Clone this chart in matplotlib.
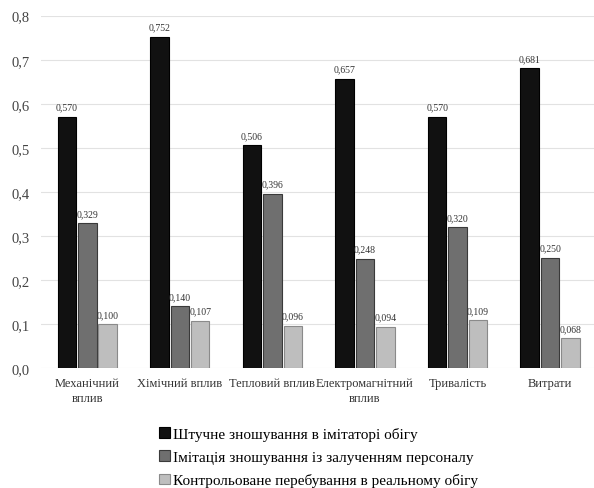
import numpy as np
import matplotlib.pyplot as plt
from matplotlib.ticker import FuncFormatter

plt.rcParams['font.family'] = ['Liberation Serif', 'DejaVu Serif']

categories = ['Механічний\nвплив', 'Хімічний вплив', 'Тепловий вплив',
              'Електромагнітний\nвплив', 'Тривалість', 'Витрати']
series_names = ['Штучне зношування в імітаторі обігу',
                'Імітація зношування із залученням персоналу',
                'Контрольоване перебування в реальному обігу']
artificial = [0.570, 0.752, 0.506, 0.657, 0.570, 0.681]
staff = [0.329, 0.140, 0.396, 0.248, 0.320, 0.250]
real_use = [0.100, 0.107, 0.096, 0.094, 0.109, 0.068]

colors = ['#111111', '#6f6f6f', '#bebebe']
edges = ['#000000', '#3a3a3a', '#8a8a8a']

fig = plt.figure(figsize=(5.94, 4.89), dpi=100)
ax = fig.add_axes([0.069, 0.245, 0.935, 0.721])

x = np.arange(len(categories))
w = 0.2
offsets = [-0.22, 0.0, 0.22]
for vals, off, c, ec, name in zip([artificial, staff, real_use], offsets, colors, edges, series_names):
    bars = ax.bar(x + off, vals, w, color=c, edgecolor=ec, linewidth=0.8, label=name, zorder=3)
    for b, v in zip(bars, vals):
        ax.text(b.get_x() + b.get_width() / 2, v + 0.012, f'{v:.3f}'.replace('.', ','),
                ha='center', va='bottom', fontsize=7, color='#333333')

ax.set_xlim(-0.5, len(categories) - 0.5)
ax.set_ylim(0, 0.8)
ax.set_yticks(np.arange(0, 0.81, 0.1))
ax.yaxis.set_major_formatter(FuncFormatter(lambda v, p: f'{v:.1f}'.replace('.', ',')))
ax.set_xticks(x)
ax.set_xticklabels(categories, fontsize=9, color='#333333', linespacing=1.4)
ax.tick_params(axis='y', labelsize=10.5, colors='#444444', length=0, pad=8)
ax.tick_params(axis='x', length=0, pad=6)
ax.grid(axis='y', color='#e2e2e2', linewidth=0.8, zorder=0)
for s in ax.spines.values():
    s.set_visible(False)

ax.legend(loc='upper center', bbox_to_anchor=(0.5, -0.15), frameon=False, ncol=1,
          fontsize=11, handlelength=0.7, handleheight=0.7, handletextpad=0.2,
          labelspacing=0.6, borderaxespad=0)

fig.savefig('out.png', dpi=100)
